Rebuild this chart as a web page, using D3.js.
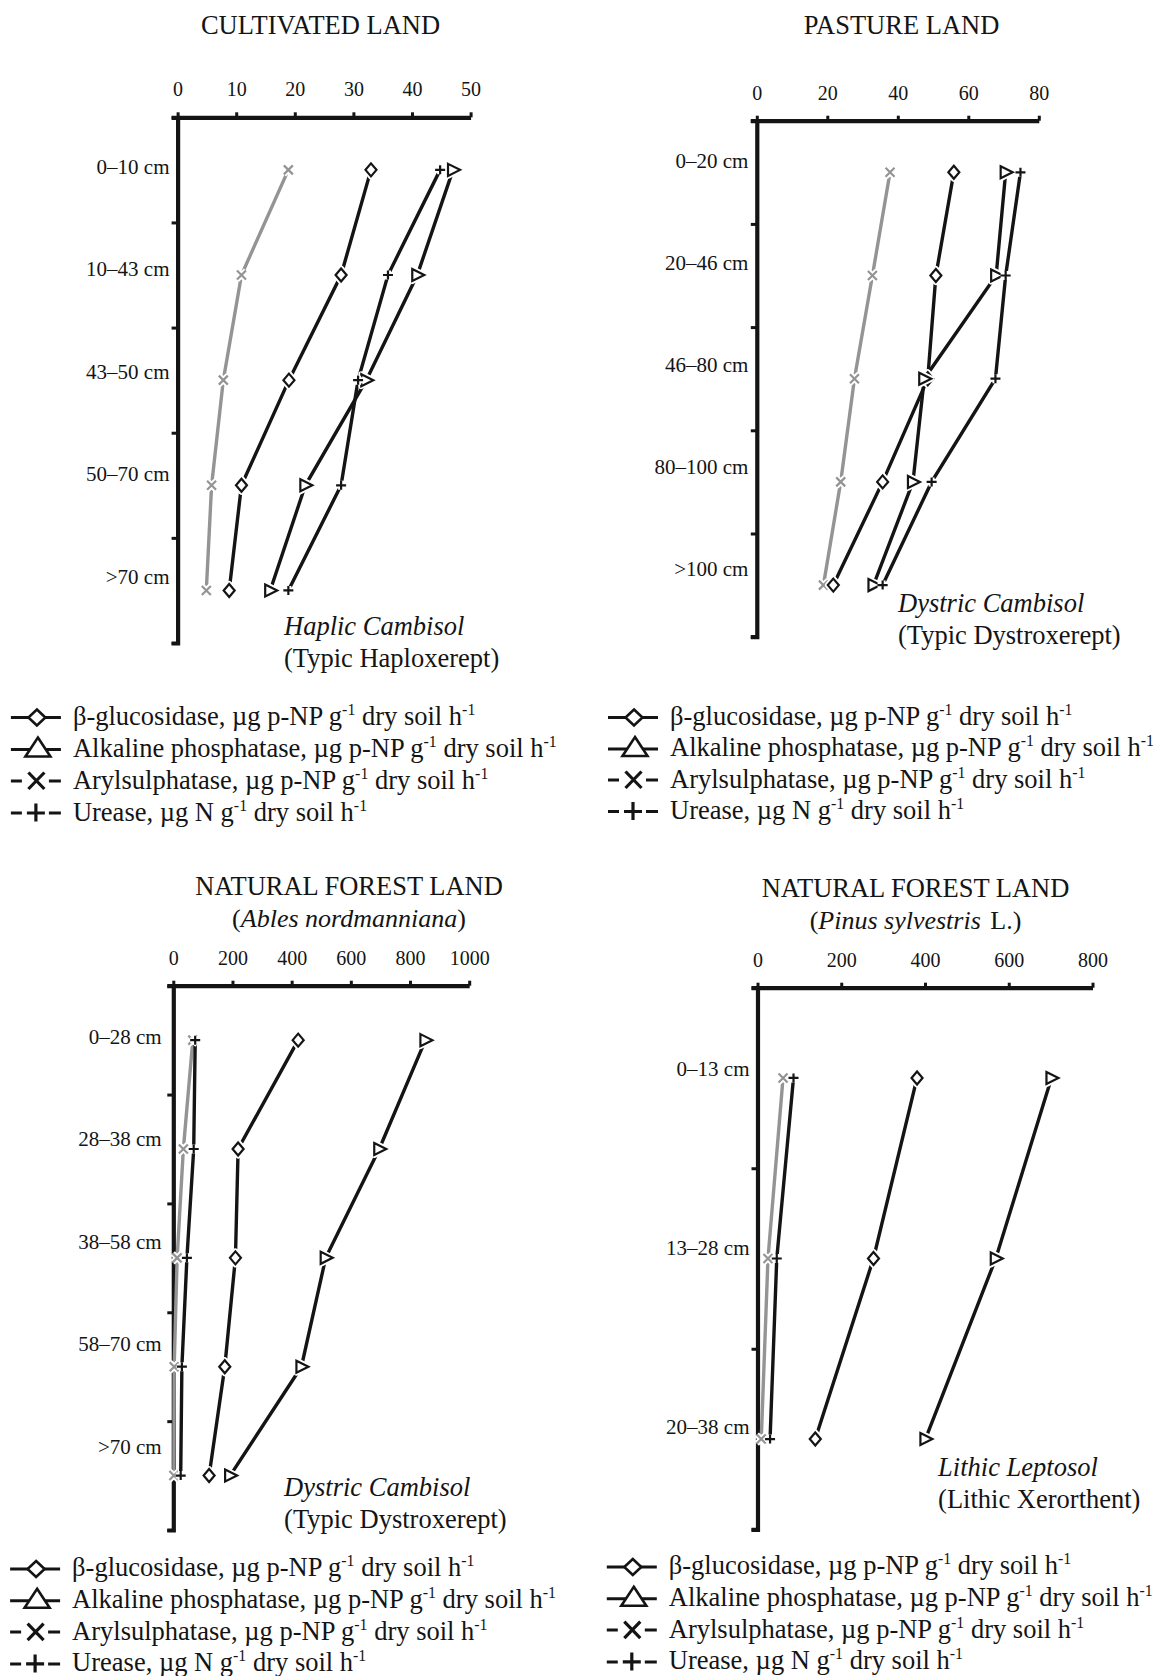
<!DOCTYPE html>
<html>
<head>
<meta charset="utf-8">
<script src="https://cdn.jsdelivr.net/npm/d3@7"></script>
<style>
  body { margin: 0; background: #fff; }
  svg { display: block; font-family: 'Liberation Serif', 'Times New Roman', serif; }
</style>
</head>
<body>
<div id="chart"></div>
<script>
// Cultivated land (Haplic Cambisol)
const cultDepths = ['0–10 cm', '10–43 cm', '43–50 cm', '50–70 cm', '>70 cm']
const cultTicks = [0, 10, 20, 30, 40, 50]
const cultGluc = [33.0, 27.9, 19.0, 10.9, 8.8]
const cultAlk = [47.0, 40.9, 32.2, 21.8, 15.8]
const cultAryl = [18.9, 10.9, 7.8, 5.8, 4.9]
const cultUre = [44.8, 35.9, 30.8, 27.9, 18.9]

// Pasture land (Dystric Cambisol)
const pastDepths = ['0–20 cm', '20–46 cm', '46–80 cm', '80–100 cm', '>100 cm']
const pastTicks = [0, 20, 40, 60, 80]
const pastGluc = [55.9, 50.8, 48.5, 35.7, 21.7]
const pastAlk = [70.6, 67.9, 47.5, 44.3, 33.1]
const pastAryl = [37.8, 32.8, 27.7, 23.8, 18.9]
const pastUre = [74.8, 70.6, 67.7, 49.6, 35.7]

// Natural forest, Abies nordmanniana (Dystric Cambisol)
const abiesDepths = ['0–28 cm', '28–38 cm', '38–58 cm', '58–70 cm', '>70 cm']
const abiesTicks = [0, 200, 400, 600, 800, 1000]
const abiesGluc = [422, 219, 210, 174, 121]
const abiesAlk = [852, 696, 515, 433, 192]
const abiesAryl = [66, 34, 13, 3, 2]
const abiesUre = [74, 69, 46, 29, 25]

// Natural forest, Pinus sylvestris (Lithic Leptosol)
const pinusDepths = ['0–13 cm', '13–28 cm', '20–38 cm']
const pinusTicks = [0, 200, 400, 600, 800]
const pinusGluc = [381, 277, 138]
const pinusAlk = [702, 569, 401]
const pinusAryl = [61, 25, 9]
const pinusUre = [86, 46, 30]

const width = 1157
const height = 1676
const ink = '#141414'
const grey = '#949494'

// small marker shapes used on the profiles
const shapes = {
  diamond: 'M0,-6.5L5.5,0L0,6.5L-5.5,0Z',
  triangle: 'M-5,-6L7,0L-5,6Z',
  times: 'M-4.5,-4.5L4.5,4.5M-4.5,4.5L4.5,-4.5',
  plus: 'M-5,0L5,0M0,-4.5L0,4.5'
}

const svg = d3.select('#chart')
  .append('svg')
  .attr('width', width)
  .attr('height', height)

function drawPanel (p) {
  const g = svg.append('g')
  const n = p.depths.length

  const x = d3.scaleLinear().domain(p.domain).range([p.x0, p.x1])
  const y = d3.scalePoint().domain(p.depths).range([p.top, p.bottom]).padding(0.5)
  // horizon boundaries, used for the ticks of the depth axis
  const yEdge = d3.scaleLinear().domain([0, n]).range([p.top, p.bottom])

  // Titles
  g.append('text')
    .attr('x', p.titleX).attr('y', p.titleY)
    .attr('text-anchor', 'middle')
    .attr('font-size', 26.5)
    .attr('fill', ink)
    .text(p.title)

  if (p.subtitle) {
    const sub = g.append('text')
      .attr('x', p.titleX).attr('y', p.titleY + 32)
      .attr('text-anchor', 'middle')
      .attr('font-size', 26)
      .attr('fill', ink)
    sub.append('tspan').text('(')
    sub.append('tspan').attr('font-style', 'italic').text(p.subtitle)
    sub.append('tspan').attr('dx', p.subtitleTail ? 3 : 0).text(p.subtitleTail + ')')
  }

  // Value axis on top
  const xAxis = g.append('g')
    .attr('transform', `translate(0,${p.top})`)
    .call(d3.axisTop(x)
      .tickValues(p.ticks)
      .tickSize(5)
      .tickSizeOuter(0)
      .tickPadding(16)
      .tickFormat(d3.format('d')))
  xAxis.attr('font-family', null).attr('font-size', 20)
  xAxis.select('.domain').attr('stroke', ink).attr('stroke-width', 4.2)
  xAxis.selectAll('.tick line').attr('stroke', ink).attr('stroke-width', 3)
  xAxis.selectAll('.tick text').attr('fill', ink)

  // Depth axis
  const yAxis = g.append('g')
    .attr('transform', `translate(${p.x0},0)`)
    .call(d3.axisLeft(yEdge)
      .tickValues(d3.range(n + 1))
      .tickSize(6)
      .tickSizeOuter(6)
      .tickFormat(''))
  yAxis.select('.domain').attr('stroke', ink).attr('stroke-width', 4.2)
  yAxis.selectAll('.tick line').attr('stroke', ink).attr('stroke-width', 3)

  // Depth labels sit a little above the horizon points
  g.append('g')
    .selectAll('text')
    .data(p.depths)
    .join('text')
    .attr('x', p.labelX)
    .attr('y', (d, i) => p.labelTop + i * p.labelStep + 7)
    .attr('text-anchor', 'end')
    .attr('font-size', 21)
    .attr('fill', ink)
    .text(d => d)

  const series = [
    { values: p.aryl, color: grey, shape: 'times' },
    { values: p.gluc, color: ink, shape: 'diamond' },
    { values: p.alk, color: ink, shape: 'triangle' },
    { values: p.ure, color: ink, shape: 'plus' }
  ]
  series.forEach(s => {
    s.points = s.values.map((v, i) => ({ v, depth: p.depths[i] }))
  })

  const line = d3.line()
    .x(d => x(d.v))
    .y(d => y(d.depth))

  g.append('g')
    .selectAll('path')
    .data(series)
    .join('path')
    .attr('d', s => line(s.points))
    .attr('fill', 'none')
    .attr('stroke', s => s.color)
    .attr('stroke-width', 3.4)

  // markers with a white halo, so lines stop short of them
  series.forEach(s => {
    const m = g.append('g')
      .selectAll('g')
      .data(s.points)
      .join('g')
      .attr('transform', d => `translate(${x(d.v)},${y(d.depth)})`)
    m.append('path')
      .attr('d', shapes[s.shape])
      .attr('fill', '#fff')
      .attr('stroke', '#fff')
      .attr('stroke-width', 6)
      .attr('stroke-linejoin', 'round')
    m.append('path')
      .attr('d', shapes[s.shape])
      .attr('fill', s.shape === 'diamond' || s.shape === 'triangle' ? '#fff' : 'none')
      .attr('stroke', s.color)
      .attr('stroke-width', 2.2)
  })

  // Soil classification
  const soil = g.append('text').attr('font-size', 26.5).attr('fill', ink)
  soil.append('tspan')
    .attr('x', p.soilX).attr('y', p.soilY)
    .attr('font-style', 'italic')
    .text(p.soil)
  soil.append('tspan')
    .attr('x', p.soilX).attr('y', p.soilY + 32)
    .text(p.soilUS)

  drawLegend(p.legendX, p.legendY, p.legendStep)
}

const legendRows = [
  { shape: 'diamond', parts: ['β-glucosidase, µg p-NP g', '-1', ' dry soil h', '-1'] },
  { shape: 'triangle', parts: ['Alkaline phosphatase, µg p-NP g', '-1', ' dry soil h', '-1'] },
  { shape: 'times', parts: ['Arylsulphatase, µg p-NP g', '-1', ' dry soil h', '-1'] },
  { shape: 'plus', parts: ['Urease, µg N g', '-1', ' dry soil h', '-1'] }
]

function drawLegend (lx, ly, step) {
  const g = svg.append('g').attr('transform', `translate(${lx},${ly})`)

  legendRows.forEach((r, i) => {
    const row = g.append('g').attr('transform', `translate(0,${i * step})`)
    const sym = row.append('g')
      .attr('stroke', ink)
      .attr('fill', '#fff')

    if (r.shape === 'diamond' || r.shape === 'triangle') {
      sym.append('line')
        .attr('x1', -62).attr('x2', -12)
        .attr('y1', -7).attr('y2', -7)
        .attr('stroke-width', 3)
    }
    if (r.shape === 'diamond') {
      sym.append('path')
        .attr('d', 'M-36,-15L-27.5,-7L-36,1L-44.5,-7Z')
        .attr('stroke-width', 2.6)
    } else if (r.shape === 'triangle') {
      sym.append('path')
        .attr('d', 'M-35,-19L-22.5,0L-47.5,0Z')
        .attr('stroke-width', 2.6)
    } else {
      // short dashes either side of the glyph
      sym.append('path')
        .attr('d', 'M-62,-7.5H-51M-24,-7.5H-12')
        .attr('stroke-width', 3)
      sym.append('path')
        .attr('d', r.shape === 'times'
          ? 'M-44.5,-16L-28.5,0.5M-44.5,0.5L-28.5,-16'
          : 'M-46,-7.5H-28M-37,-17V1')
        .attr('fill', 'none')
        .attr('stroke-width', 3.2)
    }

    const t = row.append('text')
      .attr('font-size', 26.5)
      .attr('fill', ink)
    let prevSup = false
    r.parts.forEach((part, k) => {
      const sup = k % 2 === 1
      t.append('tspan')
        .attr('font-size', sup ? '60%' : null)
        .attr('dy', sup ? -10 : (prevSup ? 10 : 0))
        .text(part)
      prevSup = sup
    })
  })
}

drawPanel({
  title: 'CULTIVATED LAND', titleX: 320.5, titleY: 34,
  depths: cultDepths, ticks: cultTicks, domain: [0, 50],
  gluc: cultGluc, alk: cultAlk, aryl: cultAryl, ure: cultUre,
  x0: 177.6, x1: 470.6, top: 117.3, bottom: 643,
  labelX: 169.5, labelTop: 166.7, labelStep: 102.5,
  soil: 'Haplic Cambisol', soilUS: '(Typic Haploxerept)', soilX: 284, soilY: 635,
  legendX: 72.9, legendY: 724.5, legendStep: 32
})

drawPanel({
  title: 'PASTURE LAND', titleX: 901.5, titleY: 34,
  depths: pastDepths, ticks: pastTicks, domain: [0, 80],
  gluc: pastGluc, alk: pastAlk, aryl: pastAryl, ure: pastUre,
  x0: 756.8, x1: 1038.8, top: 120.7, bottom: 636.7,
  labelX: 748.4, labelTop: 161, labelStep: 102.1,
  soil: 'Dystric Cambisol', soilUS: '(Typic Dystroxerept)', soilX: 898, soilY: 611.7,
  legendX: 670, legendY: 724.5, legendStep: 31.5
})

drawPanel({
  title: 'NATURAL FOREST LAND', titleX: 349, titleY: 895,
  subtitle: 'Ables nordmanniana', subtitleTail: '',
  depths: abiesDepths, ticks: abiesTicks, domain: [0, 1000],
  gluc: abiesGluc, alk: abiesAlk, aryl: abiesAryl, ure: abiesUre,
  x0: 173.3, x1: 469.2, top: 985.7, bottom: 1530,
  labelX: 161.7, labelTop: 1036.7, labelStep: 102.5,
  soil: 'Dystric Cambisol', soilUS: '(Typic Dystroxerept)', soilX: 284.1, soilY: 1496,
  legendX: 72.1, legendY: 1576, legendStep: 31.8
})

drawPanel({
  title: 'NATURAL FOREST LAND', titleX: 915.5, titleY: 897,
  subtitle: 'Pinus sylvestris', subtitleTail: ' L.',
  depths: pinusDepths, ticks: pinusTicks, domain: [0, 800],
  gluc: pinusGluc, alk: pinusAlk, aryl: pinusAryl, ure: pinusUre,
  x0: 757.5, x1: 1092.5, top: 987.7, bottom: 1529.3,
  labelX: 749.5, labelTop: 1069.3, labelStep: 178.7,
  soil: 'Lithic Leptosol', soilUS: '(Lithic Xerorthent)', soilX: 938.1, soilY: 1476,
  legendX: 668.8, legendY: 1574, legendStep: 31.8
})
</script>
</body>
</html>
